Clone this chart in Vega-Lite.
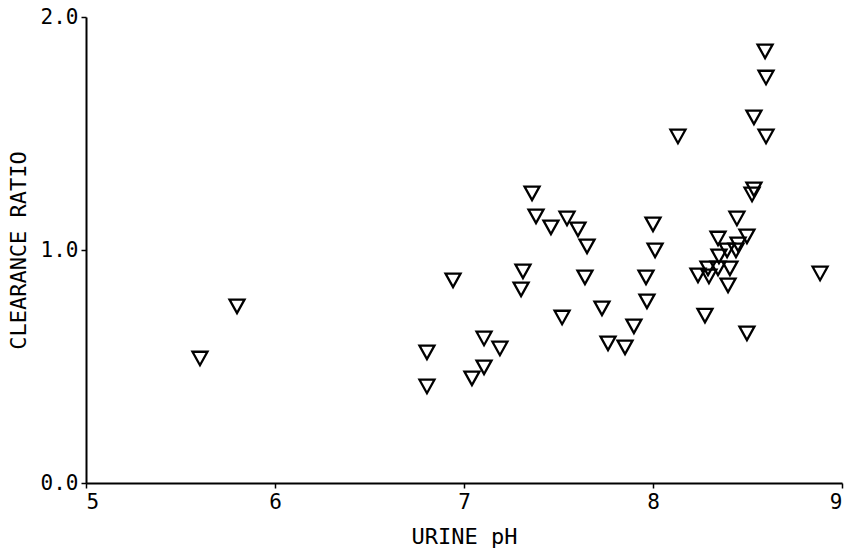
{
  "$schema": "https://vega.github.io/schema/vega-lite/v6.json",
  "width": 756,
  "height": 466,
  "autosize": {"type": "none"},
  "padding": {"left": 86, "top": 17, "right": 9, "bottom": 73},
  "background": "white",
  "config": {
    "view": {"stroke": null},
    "axis": {
      "grid": false,
      "domainColor": "black",
      "domainWidth": 2,
      "tickColor": "black",
      "tickWidth": 1.5,
      "tickSize": 5,
      "labelFont": "DejaVu Sans Mono",
      "labelFontSize": 21,
      "labelColor": "black",
      "titleFont": "DejaVu Sans Mono",
      "titleFontSize": 22,
      "titleFontWeight": "normal",
      "titleColor": "black"
    }
  },
  "data": {
    "values": [
      {"ph": 5.603, "ratio": 0.536},
      {"ph": 5.799, "ratio": 0.760},
      {"ph": 6.804, "ratio": 0.562},
      {"ph": 6.804, "ratio": 0.416},
      {"ph": 6.942, "ratio": 0.871},
      {"ph": 7.042, "ratio": 0.451},
      {"ph": 7.106, "ratio": 0.498},
      {"ph": 7.106, "ratio": 0.622},
      {"ph": 7.190, "ratio": 0.579},
      {"ph": 7.312, "ratio": 0.910},
      {"ph": 7.302, "ratio": 0.833},
      {"ph": 7.360, "ratio": 1.245},
      {"ph": 7.381, "ratio": 1.146},
      {"ph": 7.460, "ratio": 1.099},
      {"ph": 7.545, "ratio": 1.137},
      {"ph": 7.519, "ratio": 0.712},
      {"ph": 7.603, "ratio": 1.090},
      {"ph": 7.651, "ratio": 1.017},
      {"ph": 7.640, "ratio": 0.884},
      {"ph": 7.730, "ratio": 0.751},
      {"ph": 7.762, "ratio": 0.601},
      {"ph": 7.852, "ratio": 0.584},
      {"ph": 7.899, "ratio": 0.674},
      {"ph": 7.963, "ratio": 0.884},
      {"ph": 7.968, "ratio": 0.781},
      {"ph": 8.000, "ratio": 1.112},
      {"ph": 8.011, "ratio": 1.000},
      {"ph": 8.132, "ratio": 1.489},
      {"ph": 8.238, "ratio": 0.893},
      {"ph": 8.291, "ratio": 0.923},
      {"ph": 8.296, "ratio": 0.888},
      {"ph": 8.344, "ratio": 1.051},
      {"ph": 8.349, "ratio": 0.974},
      {"ph": 8.344, "ratio": 0.923},
      {"ph": 8.392, "ratio": 1.000},
      {"ph": 8.407, "ratio": 0.923},
      {"ph": 8.439, "ratio": 1.000},
      {"ph": 8.450, "ratio": 1.026},
      {"ph": 8.397, "ratio": 0.850},
      {"ph": 8.497, "ratio": 1.060},
      {"ph": 8.444, "ratio": 1.137},
      {"ph": 8.275, "ratio": 0.720},
      {"ph": 8.497, "ratio": 0.644},
      {"ph": 8.884, "ratio": 0.901},
      {"ph": 8.593, "ratio": 1.854},
      {"ph": 8.598, "ratio": 1.742},
      {"ph": 8.534, "ratio": 1.571},
      {"ph": 8.598, "ratio": 1.489},
      {"ph": 8.534, "ratio": 1.262},
      {"ph": 8.524, "ratio": 1.240}
    ]
  },
  "mark": {
    "type": "point",
    "shape": "M-1,-0.85L1,-0.85L0,0.95Z",
    "filled": false,
    "stroke": "black",
    "strokeWidth": 2.3,
    "size": 225,
    "opacity": 1
  },
  "encoding": {
    "x": {
      "field": "ph",
      "type": "quantitative",
      "scale": {"domain": [5, 9], "nice": false, "zero": false},
      "axis": {"title": "URINE pH", "values": [5, 6, 7, 8, 9], "format": "d", "labelPadding": 3, "titlePadding": 14}
    },
    "y": {
      "field": "ratio",
      "type": "quantitative",
      "scale": {"domain": [0, 2], "nice": false},
      "axis": {"title": "CLEARANCE RATIO", "values": [0, 1, 2], "format": ".1f", "labelPadding": 3, "titlePadding": 10}
    }
  }
}
